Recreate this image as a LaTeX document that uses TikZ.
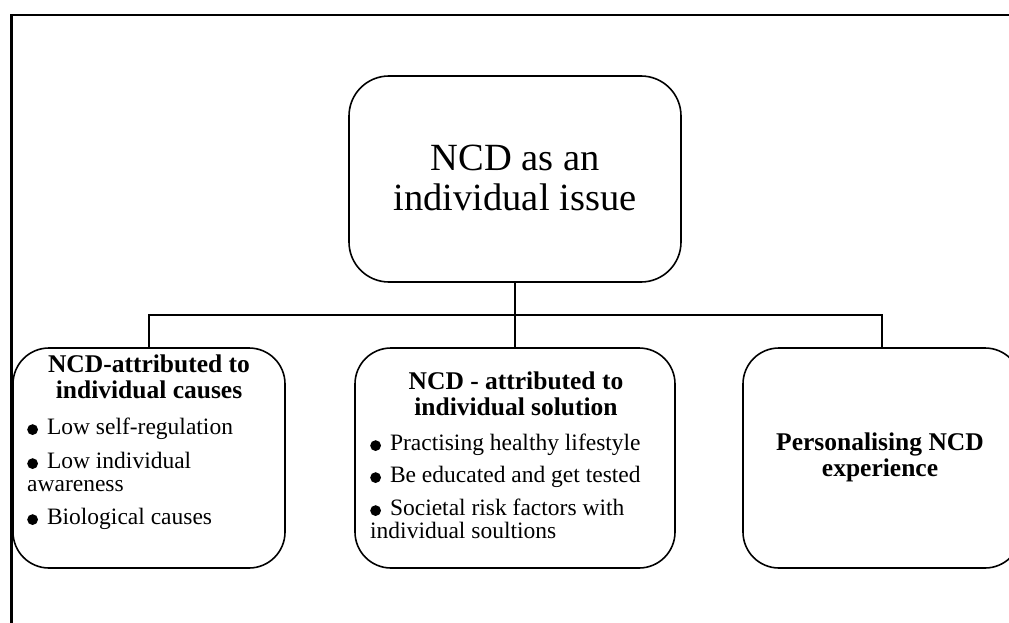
\documentclass[tikz,border=0pt]{standalone}
\usepackage{fontspec}
\setmainfont{Liberation Serif}
% solid round bullet sitting on the baseline
\newcommand\blt{\tikz[baseline=-4.4pt]\fill (0pt,0pt) circle (5.4pt);\hspace{9pt}}
% text block: width, alignment and font, body
\newcommand\textblock[3]{\parbox[t]{#1}{#2#3}}
\begin{document}
\begin{tikzpicture}[x=1pt,y=-1pt,
  box/.style={draw, line width=1.6pt, rounded corners=#1, inner sep=0pt, minimum height=220pt},
  link/.style={line width=1.3pt},
  label/.style={inner sep=0pt, anchor=base},
  listlabel/.style={inner sep=0pt, anchor=base west}
]
\useasboundingbox (0,0) rectangle (1009,623);
\clip (0,0) rectangle (1009,623);

% page frame (top and left rules)
\draw[line width=2.2pt] (1009,15) -- (11.5,15) -- (11.5,623);

% boxes
\node[box=40pt, minimum width=332pt, minimum height=206pt] (top) at (515,179) {};
\node[box=36pt, minimum width=272pt] (causes) at (149,458) {};
\node[box=36pt, minimum width=320pt] (solution) at (515,458) {};
\node[box=36pt, minimum width=278pt] (personal) at (882,458) {};

% connectors
\coordinate (bus) at (515,315);
\draw[link] (top.south) -- (bus);
\draw[link] (causes.north) |- (bus);
\draw[link] (solution.north) -- (bus);
\draw[link] (personal.north) |- (bus);

% texts
\node[label] (toplabel) at (515,170)
  {\textblock{300pt}{\centering\fontsize{38.5}{40}\selectfont}{NCD as an\\individual issue}};

\node[label] (causeshead) at (149,372)
  {\textblock{260pt}{\centering\bfseries\fontsize{25.5}{26.5}\selectfont}{NCD-attributed to\\individual causes}};
\node[listlabel] (causeslist) at (27,434)
  {\textblock{250pt}{\raggedright\fontsize{23.5}{23}\selectfont}{\blt Low self-regulation\\[11pt]
  \blt Low individual\\awareness\\[10pt]
  \blt Biological causes}};

\node[label] (solutionhead) at (516,389)
  {\textblock{300pt}{\centering\bfseries\fontsize{25.5}{26.5}\selectfont}{NCD - attributed to\\individual solution}};
\node[listlabel] (solutionlist) at (370,450)
  {\textblock{300pt}{\raggedright\fontsize{23.5}{23}\selectfont}{\blt Practising healthy lifestyle\\[9pt]
  \blt Be educated and get tested\\[10pt]
  \blt Societal risk factors with\\individual soultions}};

\node[label] (personalhead) at (880,450)
  {\textblock{260pt}{\centering\bfseries\fontsize{25.5}{26.5}\selectfont}{Personalising NCD\\experience}};
\end{tikzpicture}
\end{document}
